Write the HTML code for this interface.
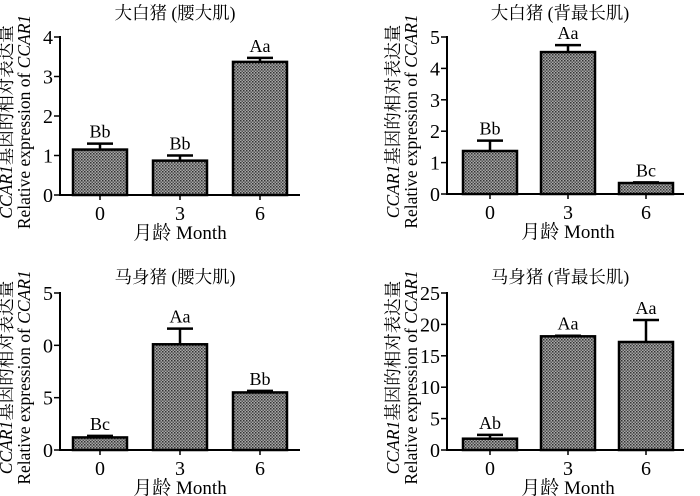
<!DOCTYPE html>
<html><head><meta charset="utf-8">
<style>
body{margin:0;background:#fff;}
svg{display:block;font-family:"Liberation Serif","Noto Serif CJK SC",serif;}
</style></head><body>
<svg id="chart" width="700" height="496" viewBox="0 0 700 496">
<defs>
<pattern id="dots" width="3" height="3" patternUnits="userSpaceOnUse">
<rect width="3" height="3" fill="#a8a8a8"/>
<rect width="1.5" height="1.5" fill="#333"/>
<rect x="1.5" y="1.5" width="1.5" height="1.5" fill="#555"/>
</pattern>
</defs>
</svg>
<script>
const categories = ["0","3","6"];
const p1Values = [1.15, 0.87, 3.37];
const p1Errors = [0.15, 0.13, 0.10];
const p1Letters = ["Bb","Bb","Aa"];
const p1Ticks = [0,1,2,3,4];
const p1TickLabels = ["0","1","2","3","4"];
const p2Values = [1.37, 4.52, 0.35];
const p2Errors = [0.33, 0.22, 0.02];
const p2Letters = ["Bb","Aa","Bc"];
const p2Ticks = [0,1,2,3,4,5];
const p2TickLabels = ["0","1","2","3","4","5"];
const p3Values = [1.2, 10.1, 5.5];
const p3Errors = [0.15, 1.5, 0.15];
const p3Letters = ["Bc","Aa","Bb"];
const p3Ticks = [0,5,10,15];
const p3TickLabels = ["0","5","0","5"];
const p4Values = [1.8, 18.1, 17.2];
const p4Errors = [0.6, 0.1, 3.5];
const p4Letters = ["Ab","Aa","Aa"];
const p4Ticks = [0,5,10,15,20,25];
const p4TickLabels = ["0","5","10","15","20","25"];

const NS="http://www.w3.org/2000/svg";
const svg=document.getElementById('chart');
function mk(tag,attrs,parent,text){const e=document.createElementNS(NS,tag);for(const k in attrs)e.setAttribute(k,attrs[k]);if(text!==undefined)e.textContent=text;(parent||svg).appendChild(e);return e;}

function panel(cfg){
  const g=mk('g',{});
  
  
  const ax=cfg.ax, y0=cfg.y0, y1=cfg.y1, ymax=cfg.ticks[cfg.ticks.length-1];
  const ys=v=>y0-(v/ymax)*(y0-y1);
  const xs=i=>cfg.cx0+i*cfg.step;
  const bw=54;
  const t=mk('text',{x:cfg.tx,y:cfg.ty,'text-anchor':'middle','font-size':17.5},g,cfg.title);
  
  cfg.values.forEach((v,i)=>{
    const cx=xs(i), top=ys(v), et=ys(v+cfg.errors[i]);
    const eb=mk('line',{x1:cx,x2:cx,y1:top,y2:et,stroke:'#000','stroke-width':2.5},g);
    
    const cap=mk('line',{x1:cx-13,x2:cx+13,y1:et,y2:et,stroke:'#000','stroke-width':2.5},g);
    
    const r=mk('rect',{x:cx-bw/2,y:top,width:bw,height:y0-top,fill:'url(#dots)',stroke:'#000','stroke-width':2.5},g);
    
    const l=mk('text',{x:cx,y:et-6,'text-anchor':'middle','font-size':18},g,cfg.letters[i]);
    
    const tk=mk('line',{x1:cx,x2:cx,y1:y0,y2:y0+5,stroke:'#000','stroke-width':1.5},g);
    
    const tl=mk('text',{x:cx,y:y0+25,'text-anchor':'middle','font-size':20},g,categories[i]);
    
  });
  const ya=mk('line',{x1:ax,x2:ax,y1:y1-1,y2:y0+1,stroke:'#000','stroke-width':2},g);
  
  const xa=mk('line',{x1:ax-1,x2:cfg.xend,y1:y0,y2:y0,stroke:'#000','stroke-width':2},g);
  
  cfg.ticks.forEach((tv,i)=>{
    const y=ys(tv);
    const tk=mk('line',{x1:ax-6,x2:ax,y1:y,y2:y,stroke:'#000','stroke-width':1.5},g);
    
    const tl=mk('text',{x:ax-7,y:y+7,'text-anchor':'end','font-size':20},g,cfg.tickLabels[i]);
    
  });
  const xl=mk('text',{x:cfg.cx0+cfg.step,y:y0+44,'text-anchor':'middle','font-size':19},g);
  
  xl.setAttribute('xml:space','preserve');
  xl.textContent='月龄  Month';
  const cy=(y0+y1)/2+6;
  const l1=mk('text',{transform:`translate(${ax-48},${cy}) rotate(-90)`,'text-anchor':'middle','font-size':17.5},g);
  
  mk('tspan',{'font-style':'italic'},l1,'CCAR1');mk('tspan',{},l1,'基因的相对表达量');
  const l2=mk('text',{transform:`translate(${ax-30},${cy}) rotate(-90)`,'text-anchor':'middle','font-size':17.5},g);
  
  mk('tspan',{},l2,'Relative expression of ');mk('tspan',{'font-style':'italic'},l2,'CCAR1');
}
panel({name:'panel-large-white-psoas',title:'大白猪 (腰大肌)',tx:175,ty:19,ax:60,y0:195,y1:37,cx0:100,step:80,xend:300,values:p1Values,errors:p1Errors,letters:p1Letters,ticks:p1Ticks,tickLabels:p1TickLabels});
panel({name:'panel-large-white-longissimus',title:'大白猪 (背最长肌)',tx:560,ty:19,ax:447,y0:194,y1:37,cx0:490,step:78,xend:684,values:p2Values,errors:p2Errors,letters:p2Letters,ticks:p2Ticks,tickLabels:p2TickLabels});
panel({name:'panel-mashen-psoas',title:'马身猪 (腰大肌)',tx:175,ty:283,ax:60,y0:450,y1:293,cx0:100,step:80,xend:300,values:p3Values,errors:p3Errors,letters:p3Letters,ticks:p3Ticks,tickLabels:p3TickLabels});
panel({name:'panel-mashen-longissimus',title:'马身猪 (背最长肌)',tx:560,ty:283,ax:447,y0:450,y1:293,cx0:490,step:78,xend:684,values:p4Values,errors:p4Errors,letters:p4Letters,ticks:p4Ticks,tickLabels:p4TickLabels});
</script>
</body></html>
